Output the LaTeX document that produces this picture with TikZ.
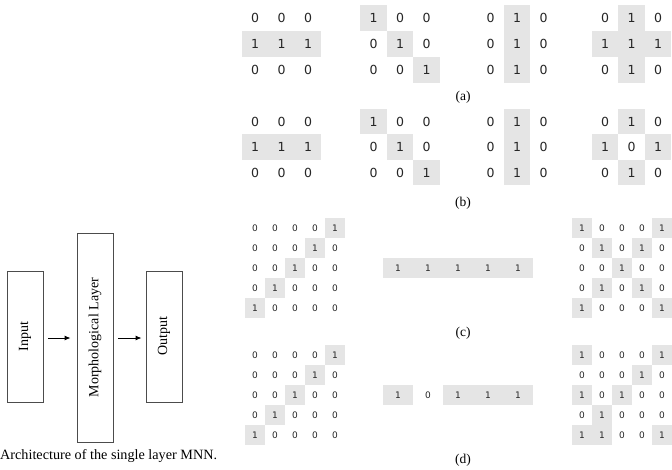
\documentclass[tikz,border=0pt]{standalone}
\usepackage{fontspec}
\setmainfont{Liberation Serif}
\newfontfamily\digitfont{DejaVu Sans}
\usetikzlibrary{arrows.meta,calc}

% grid of 0/1 values, cells holding a 1 are shaded
% #1 name, #2 style, #3 x, #4 y (centre of first cell), #5 dx, #6 dy, #7 rows
\newcommand{\bingrid}[7]{%
  \foreach \row [count=\r from 0] in {#7} {
    \foreach \v [count=\c from 0] in \row {
      \ifnum\v=1
        \fill[cellfill] (#3+\c*#5-#5/2, #4+\r*#6-#6/2) rectangle ++(#5,#6);
      \fi
      \node[#2] (#1-\r-\c) at (#3+\c*#5, #4+\r*#6) {\v};
    }
  }
}

\begin{document}
\begin{tikzpicture}[x=1pt,y=-1pt,>={Latex[length=6pt,width=5pt]},
  cellfill/.style={fill=black!10},
  digbig/.style={font=\digitfont\fontsize{12.5}{12.5}\selectfont,text=black!85,inner sep=0pt},
  digsmall/.style={font=\digitfont\fontsize{9}{9}\selectfont,text=black!85,inner sep=0pt},
  layerbox/.style={draw=black!70,line width=0.9pt,minimum width=36pt,inner sep=0pt},
  boxtext/.style={rotate=90,font=\fontsize{14}{14}\selectfont},
  sublabel/.style={font=\fontsize{13.5}{13.5}\selectfont}]
  \useasboundingbox (0,0) rectangle (672,469);
  % architecture of the network
  \node[layerbox,minimum height=131pt] (input) at (25,336.5) {};
  \node[boxtext] at (input.center) {Input};
  \node[layerbox,minimum height=209pt] (morph) at (95,337.5) {};
  \node[boxtext] at (morph.center) {Morphological Layer};
  \node[layerbox,minimum height=131pt] (output) at (164,336.5) {};
  \node[boxtext] at (output.center) {Output};
  \draw[->,line width=0.9pt,shorten <=5pt,shorten >=6pt] (input.east|-0,338) -- (morph.west|-0,338);
  \draw[->,line width=0.9pt,shorten <=5pt,shorten >=4pt] (morph.east|-0,338) -- (output.west|-0,338);
  \node[anchor=west,inner sep=0pt,font=\fontsize{14.2}{14.2}\selectfont] (caption) at (0,456) {Architecture of the single layer MNN.};
  % (a)
  \bingrid{a1}{digbig}{255}{18}{26.5}{26}{{0,0,0},{1,1,1},{0,0,0}}
  \bingrid{a2}{digbig}{373.5}{18}{26.5}{26}{{1,0,0},{0,1,0},{0,0,1}}
  \bingrid{a3}{digbig}{490.5}{18}{26.5}{26}{{0,1,0},{0,1,0},{0,1,0}}
  \bingrid{a4}{digbig}{605}{18}{26.5}{26}{{0,1,0},{1,1,1},{0,1,0}}
  \node[sublabel] (la) at (463,97) {(a)};
  % (b)
  \bingrid{b1}{digbig}{255}{121.5}{26.5}{25.5}{{0,0,0},{1,1,1},{0,0,0}}
  \bingrid{b2}{digbig}{373.5}{121.5}{26.5}{25.5}{{1,0,0},{0,1,0},{0,0,1}}
  \bingrid{b3}{digbig}{490.5}{121.5}{26.5}{25.5}{{0,1,0},{0,1,0},{0,1,0}}
  \bingrid{b4}{digbig}{605}{121.5}{26.5}{25.5}{{0,1,0},{1,0,1},{0,1,0}}
  \node[sublabel] (lb) at (463,203) {(b)};
  % (c)
  \bingrid{c1}{digsmall}{255}{228}{20}{20}{{0,0,0,0,1},{0,0,0,1,0},{0,0,1,0,0},{0,1,0,0,0},{1,0,0,0,0}}
  \bingrid{c2}{digsmall}{398}{268}{30}{20}{{1,1,1,1,1}}
  \bingrid{c3}{digsmall}{582}{228}{20}{20}{{1,0,0,0,1},{0,1,0,1,0},{0,0,1,0,0},{0,1,0,1,0},{1,0,0,0,1}}
  \node[sublabel] (lc) at (463,333) {(c)};
  % (d)
  \bingrid{d1}{digsmall}{255}{355}{20}{20}{{0,0,0,0,1},{0,0,0,1,0},{0,0,1,0,0},{0,1,0,0,0},{1,0,0,0,0}}
  \bingrid{d2}{digsmall}{398}{395}{30}{20}{{1,0,1,1,1}}
  \bingrid{d3}{digsmall}{582}{355}{20}{20}{{1,0,0,0,1},{0,0,0,1,0},{1,0,1,0,0},{0,1,0,0,0},{1,1,0,0,1}}
  \node[sublabel] (ld) at (463,460) {(d)};
\end{tikzpicture}
\end{document}
